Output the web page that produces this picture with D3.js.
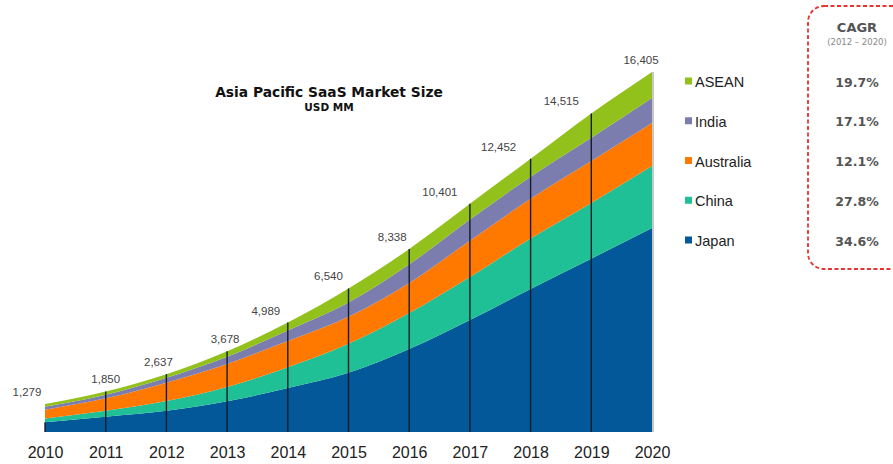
<!DOCTYPE html>
<html>
  <head>
    <meta charset="utf-8">
    <title>Asia Pacific SaaS Market Size</title>
    <style>
      body { margin: 0; background: #fff; }
      svg { display: block; font-family: "Liberation Sans", Arial, sans-serif; }
      .total { font-size: 11.5px; fill: #444; }
      .year { font-size: 16px; fill: #222; }
      .legend { font-size: 14.5px; fill: #222; }
      .cagr { font-family: "DejaVu Sans", sans-serif; font-size: 12.5px; font-weight: bold; fill: #555; }
    </style>
  </head>
  <body>
    <div id="chart"></div>
    <script src="https://cdn.jsdelivr.net/npm/d3@7"></script>
    <script>

    // data
    var years = [2010, 2011, 2012, 2013, 2014, 2015, 2016, 2017, 2018, 2019, 2020]
    var totals = [1279, 1850, 2637, 3678, 4989, 6540, 8338, 10401, 12452, 14515, 16405]
    var japan     = [440, 700, 970, 1400, 2000, 2700, 3780, 5100, 6520, 7900, 9294]
    var china     = [175, 265, 440, 650, 950, 1320, 1640, 1960, 2300, 2540, 2825]
    var australia = [400, 570, 840, 1050, 1200, 1230, 1370, 1660, 1810, 1910, 1959]
    var india     = [130, 160, 220, 330, 480, 650, 850, 960, 1000, 1060, 1139]
    var asean     = [134, 155, 167, 248, 359, 640, 698, 721, 822, 1105, 1188]

    var seriesNames = ['Japan', 'China', 'Australia', 'India', 'ASEAN']
    var cagrLabels = ['34.6%', '27.8%', '12.1%', '17.1%', '19.7%']  // same order as seriesNames
    var colors = ['#03589a', '#1fc096', '#ff7800', '#7b7daf', '#92c11b']

    var width = 893,
        height = 464

    var svg = d3.select('#chart')
          .append('svg')
          .attr('width', width)
          .attr('height', height)

    var rows = years.map(function(y, i) {
      return { year: y, Japan: japan[i], China: china[i], Australia: australia[i], India: india[i], ASEAN: asean[i] }
    })

    var x = d3.scalePoint().domain(years).range([45, 652])
    var y = d3.scaleLinear().domain([0, 16405]).range([432, 72])

    var stack = d3.stack().keys(seriesNames)
    var layers = stack(rows)

    var area = d3.area()
        .curve(d3.curveMonotoneX)
        .x(function(d) { return x(d.data.year) })
        .y0(function(d) { return y(d[0]) })
        .y1(function(d) { return y(d[1]) })

    svg.append('g').selectAll('path')
      .data(layers)
      .enter()
      .append('path')
      .attr('d', area)
      .attr('fill', function(d, i) { return colors[i] })

    // vertical year lines
    svg.append('g').selectAll('line')
      .data(years.slice(0, -1))
      .enter()
      .append('line')
      .attr('x1', function(d) { return x(d) })
      .attr('x2', function(d) { return x(d) })
      .attr('y1', y(0))
      .attr('y2', function(d, i) { return i === 0 ? y(japan[0]) : y(totals[i]) })
      .attr('stroke', '#151c2a')
      .attr('stroke-width', 1.4)

    // grey line closing the right edge
    svg.append('line')
      .attr('x1', x(2020) + 1).attr('x2', x(2020) + 1)
      .attr('y1', y(0)).attr('y2', y(totals[10]))
      .attr('stroke', '#b5b5b5')
      .attr('stroke-width', 1.5)

    // total labels
    var fmt = d3.format(',')
    var labelShift = [-18, 0, -8, -2, -22, -20, -17, -30, -32, -30, -11]
    svg.append('g').selectAll('text')
      .data(totals)
      .enter()
      .append('text')
      .attr('class', 'total')
      .attr('text-anchor', 'middle')
      .attr('x', function(d, i) { return x(years[i]) + labelShift[i] })
      .attr('y', function(d) { return y(d) - 8 })
      .text(function(d) { return fmt(d) })

    // x axis labels
    var xAxis = d3.axisBottom(x).tickSize(0).tickPadding(0)
    var gx = svg.append('g').attr('transform', 'translate(0,447)').call(xAxis)
    gx.select('.domain').remove()
    gx.selectAll('text').attr('class', 'year').attr('font-size', null).attr('font-family', null)

    // title
    svg.append('text')
      .attr('x', 329).attr('y', 97)
      .attr('text-anchor', 'middle')
      .attr('font-family', 'DejaVu Sans, sans-serif')
      .attr('font-weight', 'bold')
      .attr('font-size', 13.8)
      .attr('fill', '#111')
      .text('Asia Pacific SaaS Market Size')
    svg.append('text')
      .attr('x', 329).attr('y', 111)
      .attr('text-anchor', 'middle')
      .attr('font-family', 'DejaVu Sans, sans-serif')
      .attr('font-weight', 'bold')
      .attr('font-size', 10.5)
      .attr('fill', '#111')
      .text('USD MM')

    // legend, top to bottom ASEAN ... Japan
    var legendOrder = seriesNames.map(function(n, i) { return i }).reverse()
    var legendY = d3.scalePoint().domain(legendOrder).range([82, 241])

    var lg = svg.append('g').selectAll('g')
      .data(legendOrder)
      .enter()
      .append('g')
      .attr('transform', function(d) { return 'translate(685,' + legendY(d) + ')' })
    lg.append('rect')
      .attr('x', 0).attr('y', -4.5)
      .attr('width', 7).attr('height', 7)
      .attr('fill', function(d) { return colors[d] })
    lg.append('text')
      .attr('class', 'legend')
      .attr('x', 10).attr('y', 5)
      .text(function(d) { return seriesNames[d] })

    // CAGR box
    svg.append('rect')
      .attr('x', 808).attr('y', 6)
      .attr('width', 110).attr('height', 263)
      .attr('rx', 16).attr('ry', 16)
      .attr('fill', 'none')
      .attr('stroke', '#e8342f')
      .attr('stroke-width', 1.8)
      .attr('stroke-dasharray', '4,2.5')

    svg.append('text')
      .attr('x', 857).attr('y', 32)
      .attr('text-anchor', 'middle')
      .attr('font-family', 'DejaVu Sans, sans-serif')
      .attr('font-weight', 'bold')
      .attr('font-size', 13)
      .attr('fill', '#555')
      .text('CAGR')
    svg.append('text')
      .attr('x', 857).attr('y', 45)
      .attr('text-anchor', 'middle')
      .attr('font-family', 'DejaVu Sans, sans-serif')
      .attr('font-size', 8.5)
      .attr('fill', '#888')
      .text('(2012 \u2013 2020)')

    svg.append('g').selectAll('text')
      .data(legendOrder)
      .enter()
      .append('text')
      .attr('class', 'cagr')
      .attr('text-anchor', 'middle')
      .attr('x', 857)
      .attr('y', function(d) { return legendY(d) + 4.5 })
      .text(function(d) { return cagrLabels[d] })

    </script>
  </body>
</html>
